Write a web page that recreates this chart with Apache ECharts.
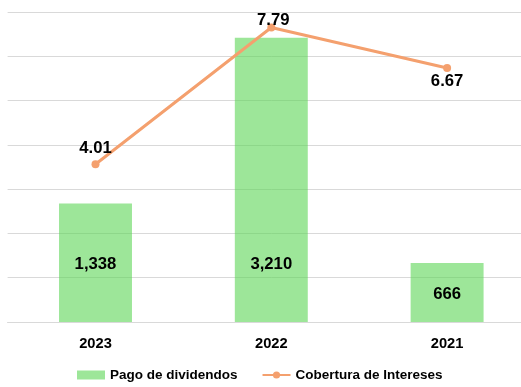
<!DOCTYPE html>
<html>
<head>
<meta charset="utf-8">
<script src="https://cdn.jsdelivr.net/npm/echarts@6/dist/echarts.min.js"></script>
<style>
html,body{margin:0;padding:0;background:#fff;overflow:hidden;width:521px;height:387px;}
#chart{width:535px;height:387px;}
</style>
</head>
<body>
<div id="chart"></div>
<script>
const categories = ['2023', '2022', '2021'];
const dividendos = [1338, 3210, 666];
const cobertura = [4.01, 7.79, 6.67];
const seriesNames = ['Pago de dividendos', 'Cobertura de Intereses'];

const chart = echarts.init(document.getElementById('chart'));
const font = 'Liberation Sans, Arial, sans-serif';

const barData = dividendos.map((v, i) => {
  if (i === 1) {
    return { value: v, label: { position: 'insideBottom', distance: 49 } };
  }
  return { value: v, label: { offset: [0, 2] } };
});
const lineLabelCfg = [
  { position: 'top', distance: 3 },
  { position: 'top', distance: 2, offset: [2, 7] },
  { position: 'bottom', distance: 1 }
];
const lineData = cobertura.map((v, i) => ({ value: v, label: lineLabelCfg[i] }));

chart.setOption({
  animation: false,
  backgroundColor: '#ffffff',
  grid: { left: 7.6, top: 12, right: 0, bottom: 65, containLabel: false },
  legend: {
    bottom: 0,
    left: 72,
    itemGap: 24,
    itemWidth: 28,
    itemHeight: 9,
    textStyle: { fontFamily: font, fontWeight: 'bold', fontSize: 13.5, color: '#000' },
    data: [
      { name: seriesNames[0], icon: 'rect' },
      { name: seriesNames[1] }
    ]
  },
  xAxis: {
    type: 'category',
    data: categories,
    axisTick: { show: false },
    axisLine: { show: true, lineStyle: { color: '#d9d9d9', width: 1 } },
    axisLabel: { margin: 14, fontFamily: font, fontWeight: 'bold', fontSize: 14.7, color: '#000' }
  },
  yAxis: [
    {
      type: 'value', min: 0, max: 3500, interval: 500,
      axisLabel: { show: false }, axisLine: { show: false }, axisTick: { show: false },
      splitLine: { show: true, lineStyle: { color: '#d9d9d9', width: 1 } }
    },
    {
      type: 'value', min: -0.35, max: 8.22,
      axisLabel: { show: false }, axisLine: { show: false }, axisTick: { show: false },
      splitLine: { show: false }
    }
  ],
  series: [
    {
      name: seriesNames[0],
      type: 'bar',
      yAxisIndex: 0,
      barWidth: '41.5%',
      data: barData,
      itemStyle: { color: 'rgba(92,213,85,0.6)' },
      label: {
        show: true, position: 'inside',
        fontFamily: font, fontWeight: 'bold', fontSize: 16.7, color: '#000',
        formatter: p => p.value.toLocaleString('en-US')
      },
      z: 2
    },
    {
      name: seriesNames[1],
      type: 'line',
      yAxisIndex: 1,
      data: lineData,
      symbol: 'circle',
      symbolSize: 8,
      lineStyle: { color: '#F4A06E', width: 3 },
      itemStyle: { color: '#F4A06E' },
      label: {
        show: true,
        fontFamily: font, fontWeight: 'bold', fontSize: 16.7, color: '#000',
        formatter: p => p.value.toFixed(2)
      },
      z: 3
    }
  ]
});
</script>
</body>
</html>
